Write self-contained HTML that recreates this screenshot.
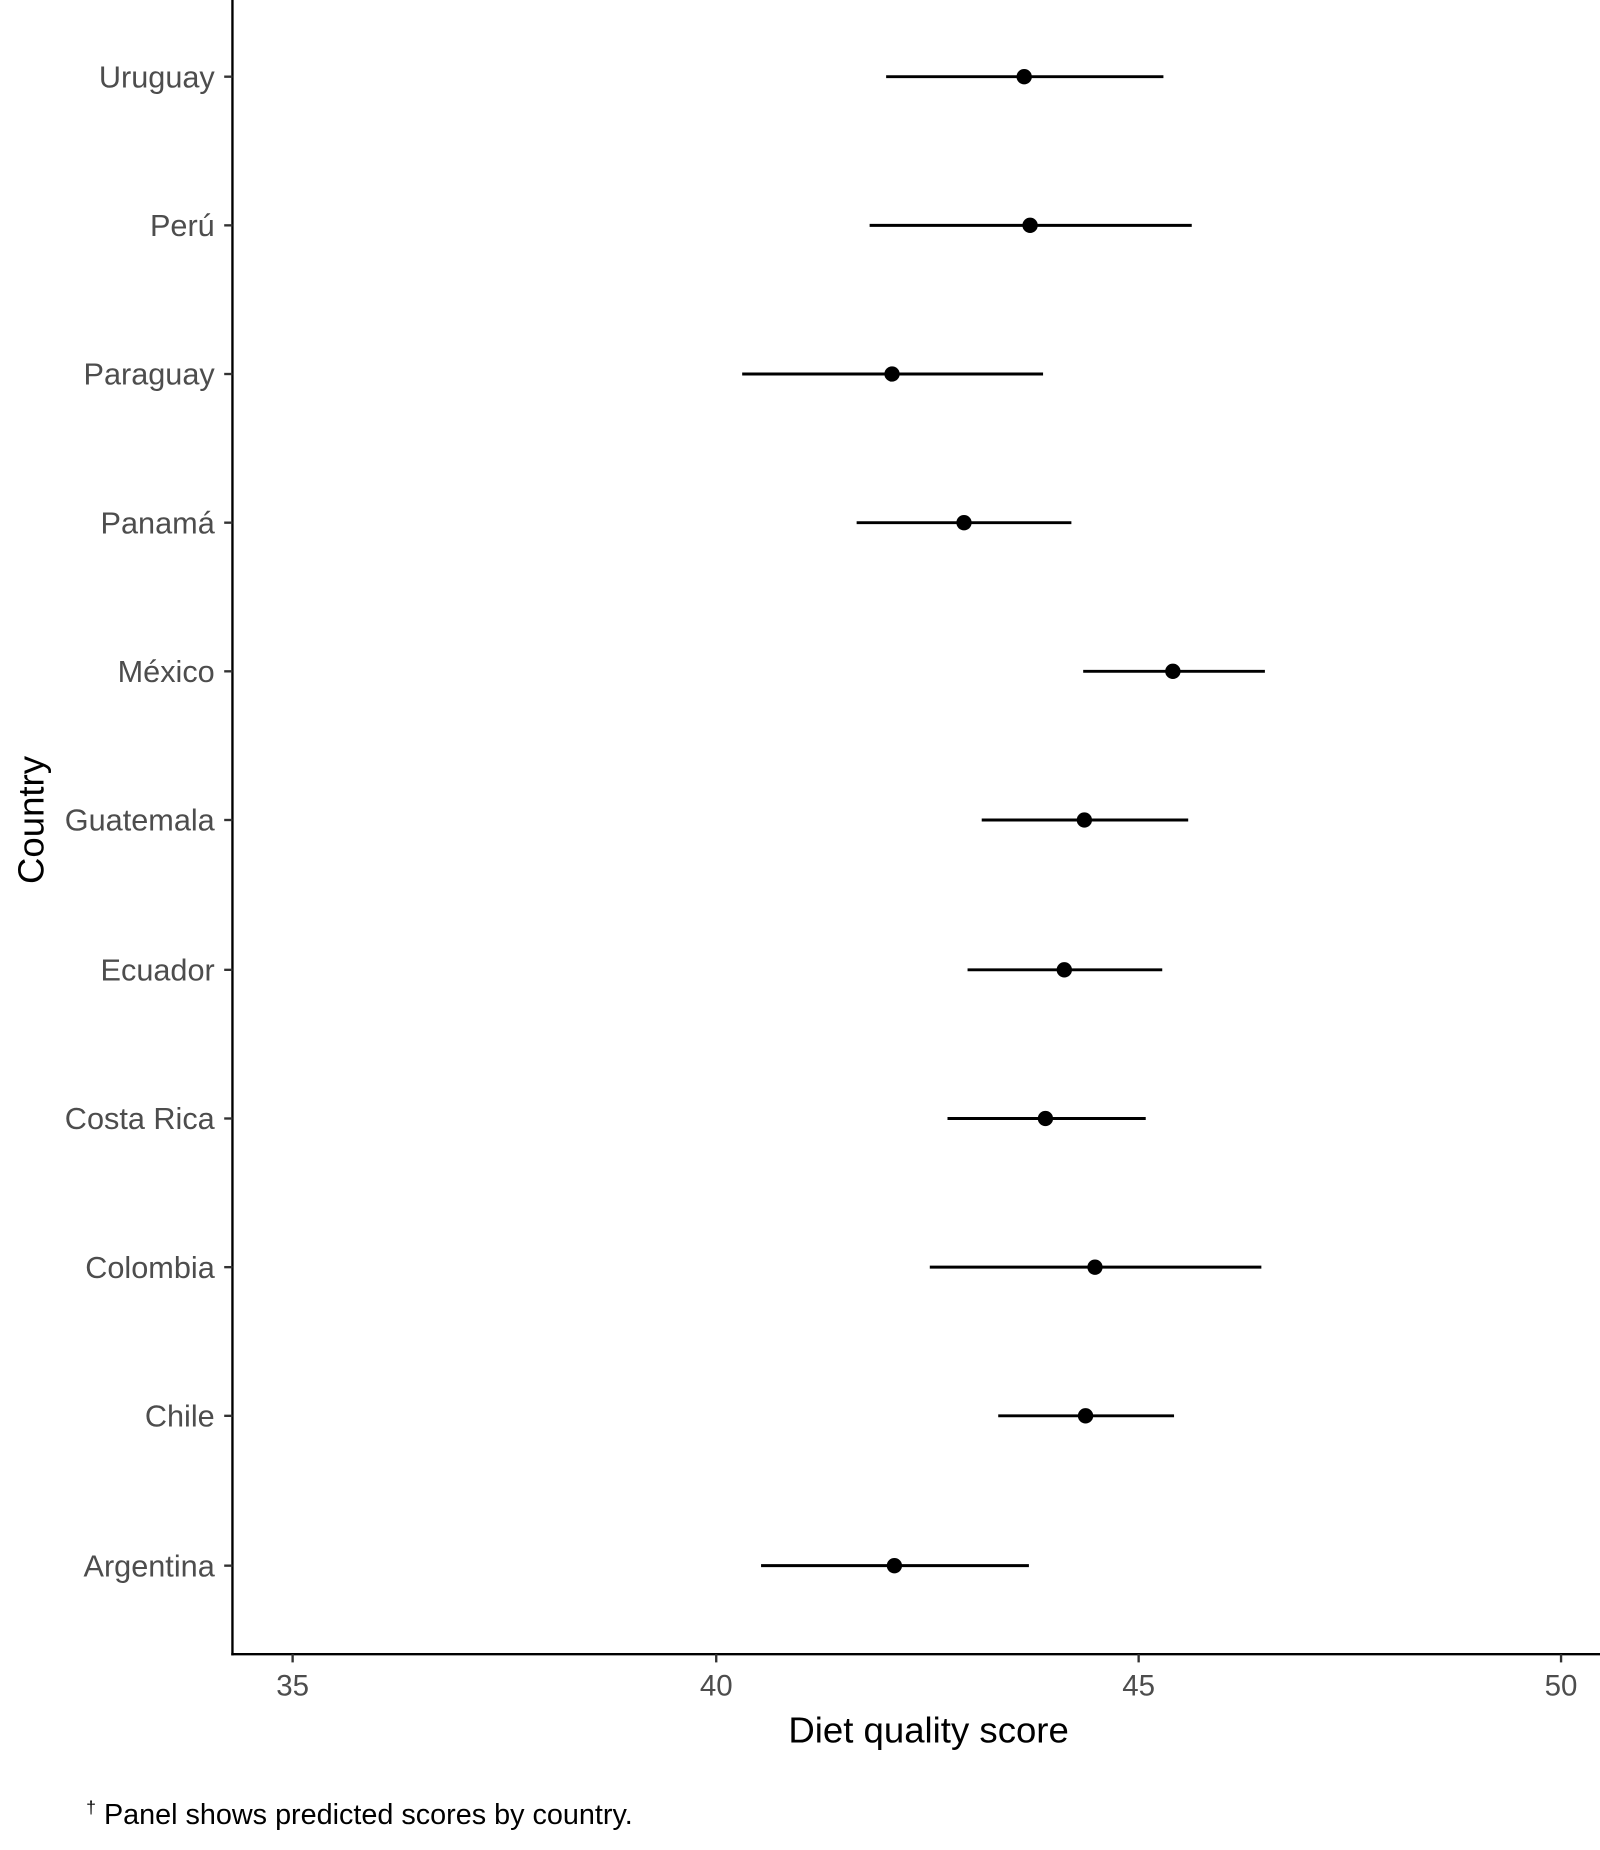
<!DOCTYPE html>
<html><head><meta charset="utf-8"><style>
html,body{margin:0;padding:0;background:#fff;}
svg{display:block;}
text{font-family:"Liberation Sans",Arial,sans-serif;}
</style></head><body>
<svg width="1600" height="1850" viewBox="0 0 1356 1568" preserveAspectRatio="none" xmlns="http://www.w3.org/2000/svg">
<rect width="1356" height="1568" fill="#fff"/>
<line x1="197" y1="0" x2="197" y2="1403" stroke="#000" stroke-width="2"/>
<line x1="196" y1="1402" x2="1356" y2="1402" stroke="#000" stroke-width="2"/>
<g stroke="#333" stroke-width="2">
<line x1="190" y1="65" x2="197" y2="65"/><line x1="190" y1="191" x2="197" y2="191"/>
<line x1="190" y1="317" x2="197" y2="317"/><line x1="190" y1="443" x2="197" y2="443"/>
<line x1="190" y1="569" x2="197" y2="569"/><line x1="190" y1="695" x2="197" y2="695"/>
<line x1="190" y1="822" x2="197" y2="822"/><line x1="190" y1="948" x2="197" y2="948"/>
<line x1="190" y1="1074" x2="197" y2="1074"/><line x1="190" y1="1200" x2="197" y2="1200"/>
<line x1="190" y1="1327" x2="197" y2="1327"/>
<line x1="248" y1="1402" x2="248" y2="1409"/><line x1="607" y1="1402" x2="607" y2="1409"/>
<line x1="965" y1="1402" x2="965" y2="1409"/><line x1="1323" y1="1402" x2="1323" y2="1409"/>
</g>
<g font-size="26" fill="#4d4d4d" text-anchor="end">
<text x="182" y="74">Uruguay</text><text x="182" y="200">Perú</text>
<text x="182" y="326">Paraguay</text><text x="182" y="452">Panamá</text>
<text x="182" y="578">México</text><text x="182" y="704">Guatemala</text>
<text x="182" y="831">Ecuador</text><text x="182" y="957">Costa Rica</text>
<text x="182" y="1083">Colombia</text><text x="182" y="1209">Chile</text>
<text x="182" y="1336">Argentina</text>
</g>
<g font-size="25" fill="#4d4d4d" text-anchor="middle">
<text x="248" y="1437">35</text><text x="607" y="1437">40</text>
<text x="965" y="1437">45</text><text x="1323" y="1437">50</text>
</g>
<text x="787" y="1477" font-size="31" text-anchor="middle" fill="#000">Diet quality score</text>
<text transform="translate(37,695) rotate(-90)" font-size="31" text-anchor="middle" fill="#000">Country</text>
<text x="73" y="1546" font-size="24.4" fill="#000"><tspan font-size="15" dy="-9">†</tspan><tspan dy="9"> Panel shows predicted scores by country.</tspan></text>
<g stroke="#000" stroke-width="2.5">
<line x1="751" y1="65" x2="986" y2="65"/><line x1="737" y1="191" x2="1010" y2="191"/>
<line x1="629" y1="317" x2="884" y2="317"/><line x1="726" y1="443" x2="908" y2="443"/>
<line x1="918" y1="569" x2="1072" y2="569"/><line x1="832" y1="695" x2="1007" y2="695"/>
<line x1="820" y1="822" x2="985" y2="822"/><line x1="803" y1="948" x2="971" y2="948"/>
<line x1="788" y1="1074" x2="1069" y2="1074"/><line x1="846" y1="1200" x2="995" y2="1200"/>
<line x1="645" y1="1327" x2="872" y2="1327"/>
</g>
<g fill="#000">
<circle cx="868" cy="65" r="6.5"/><circle cx="873" cy="191" r="6.5"/>
<circle cx="756" cy="317" r="6.5"/><circle cx="817" cy="443" r="6.5"/>
<circle cx="994" cy="569" r="6.5"/><circle cx="919" cy="695" r="6.5"/>
<circle cx="902" cy="822" r="6.5"/><circle cx="886" cy="948" r="6.5"/>
<circle cx="928" cy="1074" r="6.5"/><circle cx="920" cy="1200" r="6.5"/>
<circle cx="758" cy="1327" r="6.5"/>
</g>
</svg>
</body></html>
